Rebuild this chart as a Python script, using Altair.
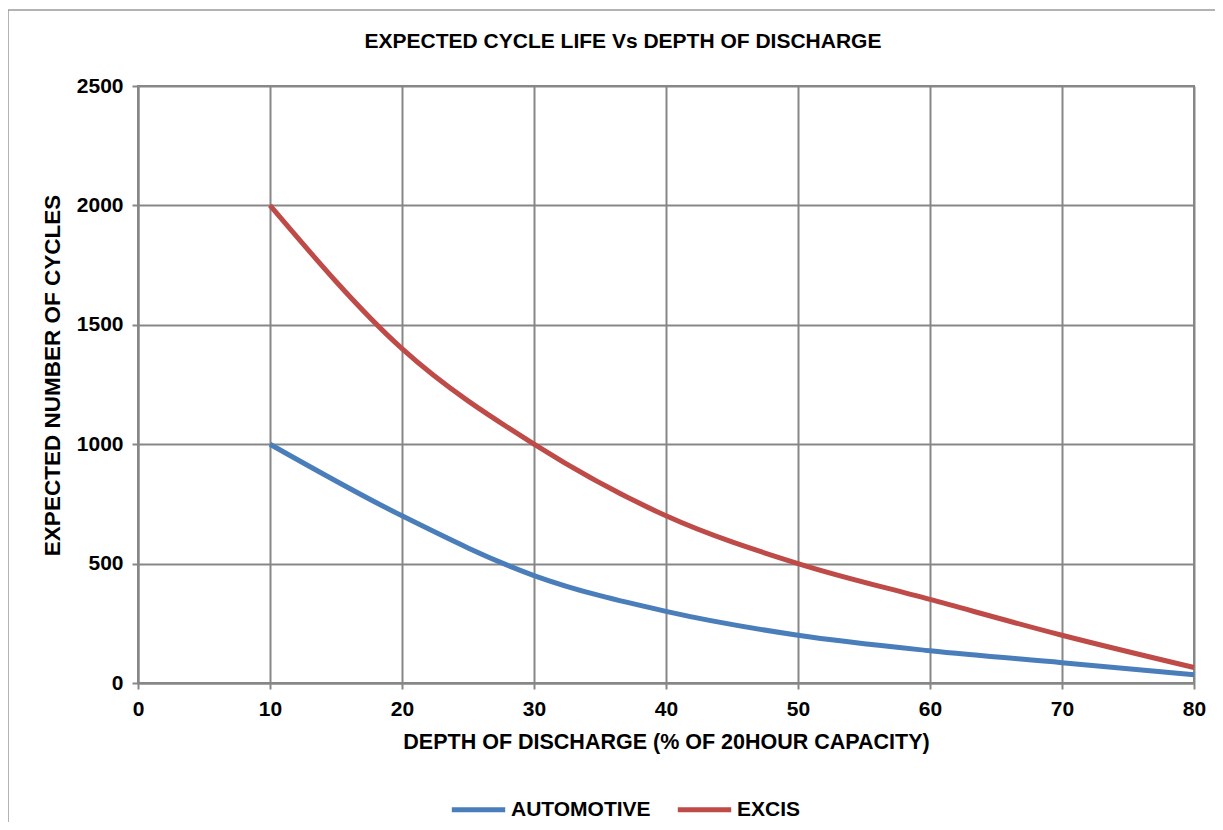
import altair as alt
import pandas as pd

depth = [10, 20, 30, 40, 50, 60, 70, 80]
automotive = [1000, 700, 450, 300, 200, 135, 85, 35]
excis = [2000, 1400, 1000, 700, 500, 350, 200, 65]
series = ["AUTOMOTIVE", "EXCIS"]
colors = ["#4A7EBB", "#BE4B48"]
x_ticks = [0, 10, 20, 30, 40, 50, 60, 70, 80]
y_ticks = [0, 500, 1000, 1500, 2000, 2500]
title_text = "EXPECTED  CYCLE LIFE Vs DEPTH OF DISCHARGE"

rows = []
for d, a, e in zip(depth, automotive, excis):
    rows.append({"depth": d, "cycles": a, "series": "AUTOMOTIVE"})
    rows.append({"depth": d, "cycles": e, "series": "EXCIS"})
df = pd.DataFrame(rows)

FONT = "Liberation Sans"
GRID = "#878787"

one = pd.DataFrame({"t": [title_text]})

border = alt.Chart(one).mark_rect(
    fill="transparent", stroke="#9a9a9a", strokeWidth=1.5
).encode(
    x=alt.value(-130), x2=alt.value(1400), y=alt.value(-76), y2=alt.value(900)
)

title = alt.Chart(one).mark_text(
    font=FONT, fontSize=21, fontWeight="bold", align="center", baseline="middle", color="#000"
).encode(
    x=alt.value(485), y=alt.value(-44), text="t:N"
)

lines = alt.Chart(df).mark_line(strokeWidth=5, interpolate="monotone").encode(
    x=alt.X(
        "depth:Q",
        scale=alt.Scale(domain=[0, 80], nice=False),
        axis=alt.Axis(
            values=x_ticks,
            title="DEPTH OF DISCHARGE (% OF 20HOUR CAPACITY)",
            labelPadding=9,
            titlePadding=12,
            labelFlush=False,
            titleFontSize=21.5,
        ),
    ),
    y=alt.Y(
        "cycles:Q",
        scale=alt.Scale(domain=[0, 2500], nice=False),
        axis=alt.Axis(
            values=y_ticks,
            format="d",
            title="EXPECTED NUMBER OF CYCLES",
            labelPadding=9,
            titlePadding=12,
            labelFlush=False,
            titleFontSize=22.5,
            titleX=-74,
            titleY=289,
        ),
    ),
    color=alt.Color(
        "series:N",
        scale=alt.Scale(domain=series, range=colors),
        legend=alt.Legend(
            title=None,
            orient="none",
            legendX=311,
            legendY=694,
            direction="horizontal",
            symbolType="stroke",
            symbolSize=2850,
            symbolStrokeWidth=5,
            labelFontSize=21,
            labelFont=FONT,
            labelFontWeight="bold",
            labelColor="#000",
            columnPadding=16,
            labelOffset=3,
            padding=0,
        ),
    ),
)

chart = alt.layer(border, lines, title).properties(
    width=1056,
    height=597,
    autosize=alt.AutoSizeParams(type="none"),
    padding={"left": 130, "top": 78, "right": 21, "bottom": 139},
).configure(
    background="white"
).configure_view(
    stroke=GRID, strokeWidth=2
).configure_axis(
    gridColor=GRID,
    gridWidth=2,
    gridOpacity=1,
    domainColor=GRID,
    domainWidth=2,
    tickColor=GRID,
    tickWidth=2,
    tickSize=6,
    labelFont=FONT,
    labelFontSize=21,
    labelFontWeight="bold",
    labelColor="#000",
    titleFont=FONT,
    titleFontSize=21,
    titleFontWeight="bold",
    titleColor="#000",
)

chart.save("out.html", embed_options={"renderer": "svg", "actions": False})
